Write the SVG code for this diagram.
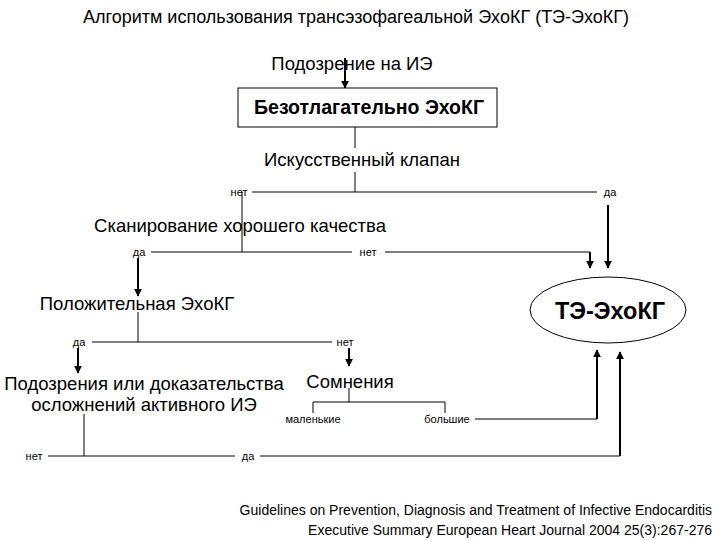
<svg xmlns="http://www.w3.org/2000/svg" width="720" height="540" viewBox="0 0 720 540">
<style>
text{font-family:"Liberation Sans",Arial,sans-serif;fill:#000}
.t{font-size:18.5px;text-anchor:middle}
.s{font-size:11px;text-anchor:middle}
.f{font-size:14px;text-anchor:end}
.l{stroke:#000;stroke-width:1;fill:none}
.a{stroke:#000;stroke-width:2;fill:none;marker-end:url(#ah)}
</style>
<defs><marker id="ah" viewBox="0 0 10 10" refX="9" refY="5" markerWidth="4" markerHeight="5" orient="auto"><path d="M0,0L10,5L0,10z" fill="#000"/></marker></defs>
<rect width="720" height="540" fill="#fff"/>
<text x="356" y="23" class="t" style="font-size:18px">Алгоритм использования трансэзофагеальной ЭхоКГ (ТЭ-ЭхоКГ)</text>
<g id="connectors">
<path class="a" d="M345,58V88"/>
<path class="l" d="M355,127V148M355,172V192M252,192H597M242,192V252M151,252H352M385,252H590"/>
<path class="a" d="M608,205V268"/>
<path class="a" d="M590,252V268"/>
<path class="a" d="M138,258V296"/>
<path class="l" d="M138,312V342M92,342H332"/>
<path class="a" d="M78,348V373"/>
<path class="a" d="M349,348V366"/>
<path class="l" d="M349,388V402M313,413V402H445V413"/>
<path class="l" d="M475,419H597"/>
<path class="a" d="M597,419V350"/>
<path class="l" d="M84,414V456M48,456H235M260,456H620"/>
<path class="a" d="M620,456V352"/>
</g>
<g id="n1"><text x="352" y="70" class="t">Подозрение на ИЭ</text></g>
<g id="n2"><rect x="238" y="88" width="259" height="39" fill="#fff" stroke="#000"/><text x="369" y="114" class="t" style="font-weight:bold;font-size:19.5px">Безотлагательно ЭхоКГ</text></g>
<g id="n3"><text x="362" y="166" class="t">Искусственный клапан</text></g>
<g id="n4"><text x="240" y="232" class="t">Сканирование хорошего качества</text></g>
<g id="n5"><text x="137" y="310" class="t">Положительная ЭхоКГ</text></g>
<g id="n6"><ellipse cx="608" cy="310" rx="78" ry="33" fill="#fff" stroke="#000"/><text x="610" y="319" class="t" style="font-weight:bold;font-size:23.5px">ТЭ-ЭхоКГ</text></g>
<g id="n7"><text x="144" y="390" class="t">Подозрения или доказательства</text><text x="144" y="411" class="t">осложнений активного ИЭ</text></g>
<g id="n8"><text x="350" y="388" class="t">Сомнения</text></g>
<g id="labels">
<text x="239" y="196" class="s">нет</text><text x="610" y="196" class="s">да</text>
<text x="139" y="256" class="s">да</text><text x="368" y="256" class="s">нет</text>
<text x="79" y="346" class="s">да</text><text x="345" y="346" class="s">нет</text>
<text x="313" y="423" class="s">маленькие</text><text x="447" y="423" class="s">большие</text>
<text x="34" y="460" class="s">нет</text><text x="248" y="460" class="s">да</text>
</g>
<text x="712" y="515" class="f">Guidelines on Prevention, Diagnosis and Treatment of Infective Endocarditis</text>
<text x="712" y="535" class="f">Executive Summary European Heart Journal 2004 25(3):267-276</text>
</svg>
